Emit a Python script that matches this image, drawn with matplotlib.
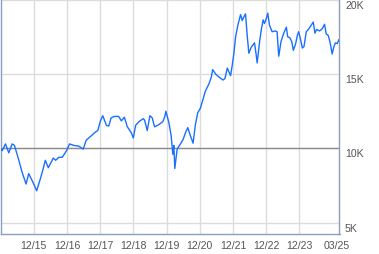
import matplotlib
matplotlib.use("Agg")
import matplotlib.pyplot as plt

# price history, x in decimal years, y in thousands
years = [
    2014.92, 2014.97, 2015.07, 2015.17, 2015.27, 2015.34, 2015.46, 2015.57, 2015.69, 2015.77,
    2015.89, 2016.01, 2016.12, 2016.19, 2016.27, 2016.36, 2016.51, 2016.58, 2016.68, 2016.78,
    2016.91, 2017.00, 2017.13, 2017.28, 2017.41, 2017.50, 2017.63, 2017.78, 2017.85, 2017.93,
    2018.00, 2018.11, 2018.18, 2018.25, 2018.35, 2018.48, 2018.56, 2018.65, 2018.74, 2018.86,
    2018.92, 2018.99, 2019.09, 2019.22, 2019.26, 2019.34, 2019.42, 2019.49, 2019.56, 2019.69,
    2019.81, 2019.87, 2019.90, 2019.99, 2020.06, 2020.11, 2020.14, 2020.17, 2020.24, 2020.34,
    2020.42, 2020.49, 2020.56, 2020.64, 2020.72, 2020.79, 2020.86, 2020.94, 2021.03, 2021.09,
    2021.19, 2021.27, 2021.31, 2021.40, 2021.50, 2021.62, 2021.68, 2021.75, 2021.80, 2021.85,
    2021.90, 2021.95, 2022.00, 2022.07, 2022.15, 2022.20, 2022.25, 2022.30, 2022.35, 2022.40,
    2022.47, 2022.57, 2022.62, 2022.65, 2022.73, 2022.78, 2022.83, 2022.87, 2022.93, 2022.97,
    2023.02, 2023.10, 2023.20, 2023.25, 2023.30, 2023.37, 2023.45, 2023.53, 2023.57, 2023.63,
    2023.69, 2023.74, 2023.81, 2023.86, 2023.90, 2023.96, 2024.01, 2024.06, 2024.13, 2024.21,
    2024.28, 2024.34, 2024.39, 2024.44, 2024.53, 2024.61, 2024.68, 2024.73, 2024.79, 2024.84,
    2024.91, 2024.96, 2025.01, 2025.06, 2025.11,
]
values = [
    10.0, 9.85, 10.3, 9.7, 10.3, 10.2, 9.3, 8.4, 7.6, 8.3,
    7.75, 7.15, 7.95, 8.5, 9.2, 8.7, 9.35, 9.2, 9.4, 9.4,
    9.85, 10.3, 10.2, 10.15, 9.95, 10.55, 10.8, 11.1, 11.2, 11.85,
    12.2, 11.55, 11.5, 12.05, 12.15, 12.15, 11.85, 12.1, 11.45, 11.05,
    10.7, 11.55, 11.8, 12.0, 11.9, 11.2, 12.2, 12.05, 11.45, 11.6,
    11.8, 12.15, 12.5, 11.75, 10.85, 9.6, 10.2, 8.65, 9.95, 10.3,
    10.6, 11.05, 11.4, 10.85, 10.35, 11.6, 12.4, 12.7, 13.4, 13.85,
    14.3, 14.8, 15.3, 15.0, 14.8, 14.6, 14.7, 15.4, 15.15, 14.9,
    15.6, 16.4, 17.5, 18.3, 19.0, 18.6, 18.85, 19.05, 17.6, 16.4,
    16.8, 17.1, 16.3, 15.75, 17.3, 18.05, 18.65, 18.4, 18.75, 19.1,
    18.3, 17.85, 17.9, 17.85, 16.2, 17.2, 17.75, 18.15, 17.5, 17.45,
    17.2, 16.6, 17.05, 17.6, 17.85, 17.3, 16.75, 16.85, 17.85, 18.05,
    18.3, 18.5, 17.75, 18.0, 17.9, 18.05, 18.35, 17.7, 17.6, 17.2,
    16.35, 16.85, 17.1, 17.05, 17.3,
]

x_ticks = [2015.92, 2016.92, 2017.92, 2018.92, 2019.92, 2020.92, 2021.92, 2022.92, 2023.92, 2025.06]
x_labels = ["12/15", "12/16", "12/17", "12/18", "12/19", "12/20", "12/21", "12/22", "12/23", "03/25"]
y_ticks = [5, 10, 15, 20]
y_labels = ["5K", "10K", "15K", "20K"]
base_value = 10

plt.rcParams["font.family"] = ["Liberation Sans", "DejaVu Sans"]

fig = plt.figure(figsize=(3.79, 2.55), dpi=100)
ax = fig.add_axes([0.5 / 379, 20 / 255, 339 / 379, 235 / 255])

ax.plot(years, values, color="#1a6fff", lw=1.0, zorder=3)
ax.axhline(base_value, color="#8c8c8c", lw=1.0, zorder=2)

ax.set_xlim(2014.92, 2025.13)
ax.set_ylim(4.24, 20.05)

ax.set_xticks(x_ticks)
ax.set_xticklabels(x_labels)
ax.set_yticks(y_ticks)
ax.set_yticklabels(y_labels)
ax.yaxis.tick_right()

ax.grid(True, color="#dcdcdc", lw=1.0, zorder=1)
ax.set_axisbelow(True)
ax.get_xgridlines()[-1].set_visible(False)

ax.tick_params(axis="both", length=0, labelsize=7.6, colors="#555555")
ax.tick_params(axis="x", pad=4)
ax.tick_params(axis="y", pad=4)
for lbl in ax.get_yticklabels():
    lbl.set_verticalalignment("top")

for side in ["left", "right", "bottom"]:
    ax.spines[side].set_color("#8a9fc0")
    ax.spines[side].set_linewidth(1.0)
ax.spines["top"].set_visible(False)

fig.savefig("out.png", dpi=100)
